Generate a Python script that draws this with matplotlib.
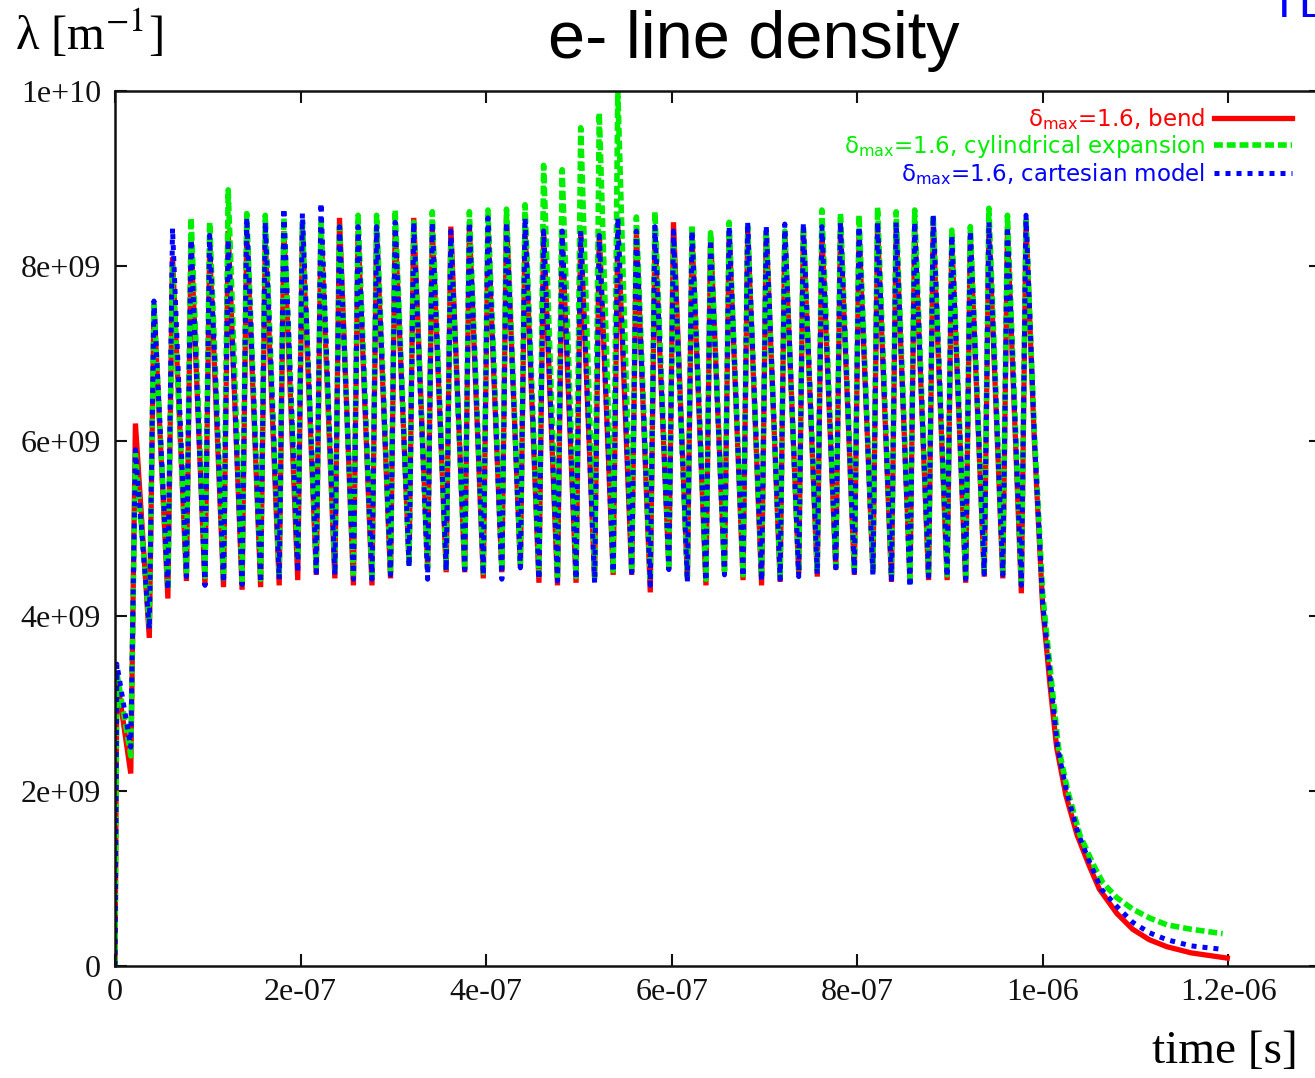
import matplotlib
matplotlib.use("Agg")
import matplotlib.pyplot as plt

# bunch passages: peak of line density (ns) and trough just before the next bunch (ns)
peak_t_ns = [2, 22, 42, 62, 82, 102, 122, 142, 162, 182,
             202, 222, 242, 262, 282, 302, 322, 342, 362, 382,
             402, 422, 442, 462, 482, 502, 522, 542, 562, 582,
             602, 622, 642, 662, 682, 702, 722, 742, 762, 782,
             802, 822, 842, 862, 882, 902, 922, 942, 962, 982]
trough_t_ns = [17, 37, 57, 77, 97, 117, 137, 157, 177, 197,
               217, 237, 257, 277, 297, 317, 337, 357, 377, 397,
               417, 437, 457, 477, 497, 517, 537, 557, 577, 597,
               617, 637, 657, 677, 697, 717, 737, 757, 777, 797,
               817, 837, 857, 877, 897, 917, 937, 957, 977]

# values in 1e9 m^-1
bend_peak = [3.3, 6.2, 7.55, 8.1, 8.3, 8.2, 8.4, 8.4, 8.3, 8.4,
             8.4, 8.45, 8.55, 8.4, 8.4, 8.45, 8.55, 8.45, 8.45, 8.45,
             8.4, 8.55, 8.45, 8.4, 8.35, 8.4, 8.4, 8.45, 8.4, 8.35,
             8.5, 8.35, 8.35, 8.4, 8.4, 8.4, 8.4, 8.4, 8.4, 8.45,
             8.4, 8.45, 8.45, 8.45, 8.45, 8.3, 8.35, 8.45, 8.4, 8.5]
bend_trough = [2.2, 3.75, 4.2, 4.4, 4.35, 4.33, 4.3, 4.33, 4.35, 4.41,
               4.47, 4.43, 4.35, 4.35, 4.43, 4.6, 4.55, 4.5, 4.5, 4.43,
               4.5, 4.55, 4.38, 4.35, 4.38, 4.42, 4.47, 4.47, 4.27, 4.55,
               4.42, 4.35, 4.5, 4.41, 4.35, 4.39, 4.48, 4.45, 4.53, 4.47,
               4.5, 4.39, 4.4, 4.41, 4.41, 4.38, 4.45, 4.43, 4.26]

cyl_peak = [3.35, 5.85, 7.55, 8.0, 8.55, 8.5, 8.87, 8.6, 8.58, 8.55,
            8.5, 8.5, 8.45, 8.58, 8.58, 8.64, 8.5, 8.62, 8.3, 8.62,
            8.64, 8.65, 8.7, 9.15, 9.1, 9.58, 9.75, 10.0, 8.56, 8.62,
            8.3, 8.47, 8.38, 8.5, 8.45, 8.4, 8.4, 8.45, 8.64, 8.6,
            8.58, 8.67, 8.62, 8.64, 8.58, 8.41, 8.45, 8.66, 8.58, 8.55]
cyl_trough = [2.4, 3.9, 4.3, 4.5, 4.45, 4.43, 4.4, 4.42, 4.45, 4.64,
              4.56, 4.52, 4.45, 4.45, 4.5, 4.6, 4.55, 4.55, 4.55, 4.5,
              4.55, 4.58, 4.47, 4.45, 4.45, 4.45, 4.52, 4.52, 4.4, 4.58,
              4.45, 4.42, 4.52, 4.47, 4.43, 4.45, 4.5, 4.5, 4.56, 4.52,
              4.52, 4.45, 4.42, 4.47, 4.47, 4.45, 4.5, 4.5, 4.38]

cart_peak = [3.45, 5.9, 7.6, 8.43, 8.3, 8.35, 8.3, 8.55, 8.5, 8.66,
             8.6, 8.72, 8.45, 8.45, 8.45, 8.5, 8.5, 8.5, 8.4, 8.5,
             8.55, 8.5, 8.55, 8.4, 8.4, 8.4, 8.35, 8.55, 8.4, 8.45,
             8.4, 8.4, 8.3, 8.45, 8.5, 8.46, 8.48, 8.49, 8.45, 8.5,
             8.45, 8.5, 8.5, 8.5, 8.58, 8.35, 8.4, 8.5, 8.45, 8.58]
cart_trough = [2.5, 3.85, 4.3, 4.45, 4.35, 4.38, 4.36, 4.38, 4.42, 4.5,
               4.5, 4.47, 4.42, 4.42, 4.47, 4.56, 4.42, 4.52, 4.53, 4.47,
               4.42, 4.55, 4.42, 4.4, 4.42, 4.38, 4.5, 4.5, 4.35, 4.53,
               4.39, 4.4, 4.47, 4.45, 4.4, 4.42, 4.45, 4.48, 4.55, 4.5,
               4.47, 4.42, 4.33, 4.45, 4.45, 4.42, 4.48, 4.47, 4.35]

# decay after the train
bend_tail_t = [991, 1000, 1008, 1015, 1025, 1037, 1050, 1061, 1080, 1097, 1115, 1134, 1160, 1199]
bend_tail = [6.0, 4.1, 3.2, 2.5, 1.95, 1.5, 1.15, 0.88, 0.6, 0.42, 0.3, 0.22, 0.15, 0.09]
cyl_tail_t = [991, 1000, 1008, 1017, 1027, 1040, 1055, 1065, 1080, 1097, 1115, 1134, 1160, 1194]
cyl_tail = [6.1, 4.25, 3.4, 2.5, 2.0, 1.5, 1.15, 0.95, 0.78, 0.65, 0.55, 0.47, 0.42, 0.37]
cart_tail_t = [991, 1000, 1008, 1016, 1026, 1038, 1050, 1063, 1080, 1097, 1115, 1134, 1160, 1194]
cart_tail = [6.05, 4.15, 3.3, 2.5, 1.98, 1.52, 1.2, 0.88, 0.68, 0.5, 0.38, 0.3, 0.23, 0.19]

x_ticks = [0, 2e-7, 4e-7, 6e-7, 8e-7, 1e-6, 1.2e-6]
x_labels = ['0', '2e-07', '4e-07', '6e-07', '8e-07', '1e-06', '1.2e-06']
y_ticks = [0, 2e9, 4e9, 6e9, 8e9, 1e10]
y_labels = ['0', '2e+09', '4e+09', '6e+09', '8e+09', '1e+10']

labels = [r'δ$_{\rm max}$=1.6, bend',
          r'δ$_{\rm max}$=1.6, cylindrical expansion',
          r'δ$_{\rm max}$=1.6, cartesian model']


def build(peaks, troughs, tail_t, tail):
    t = [0.0]
    y = [0.0]
    for i in range(len(peaks)):
        t.append(peak_t_ns[i])
        y.append(peaks[i])
        if i < len(troughs):
            t.append(trough_t_ns[i])
            y.append(troughs[i])
    t += tail_t
    y += tail
    return [v * 1e-9 for v in t], [v * 1e9 for v in y]


plt.rcParams['font.family'] = 'Liberation Serif'

fig = plt.figure(figsize=(13.15, 10.78), dpi=100)
W, H = 1315, 1078
ax = fig.add_axes([115 / W, 1 - 966 / H, 1206 / W, 875 / H])

t, y = build(bend_peak, bend_trough, bend_tail_t, bend_tail)
ax.plot(t, y, color='#ff0000', lw=3.8, solid_joinstyle='miter', label=labels[0])
t, y = build(cyl_peak, cyl_trough, cyl_tail_t, cyl_tail)
ax.plot(t, y, color='#00ee00', lw=4.0, dashes=(1.6, 0.7), label=labels[1])
t, y = build(cart_peak, cart_trough, cart_tail_t, cart_tail)
ax.plot(t, y, color='#0000ff', lw=3.6, dashes=(1.0, 1.2), label=labels[2])

ax.set_xlim(0, 1.3e-6)
ax.set_ylim(0, 1e10)
ax.set_xticks(x_ticks)
ax.set_xticklabels(x_labels)
ax.set_yticks(y_ticks)
ax.set_yticklabels(y_labels)
ax.tick_params(direction='in', length=8.5, width=1.5, top=True, right=True,
               labelsize=23, colors='#111111')
ax.tick_params(axis='x', pad=9)
ax.tick_params(axis='y', pad=10)
for s in ax.spines.values():
    s.set_linewidth(1.8)
    s.set_color('#111111')

leg = ax.legend(loc='upper right', bbox_to_anchor=(1292 / W, 1 - 106 / H),
                bbox_transform=fig.transFigure, markerfirst=False, frameon=False,
                labelcolor='linecolor', handlelength=3.4, handletextpad=0.4,
                labelspacing=0.05, borderpad=0, borderaxespad=0,
                prop={'family': 'DejaVu Sans', 'size': 16.5})
for txt in leg.get_texts():
    txt.set_math_fontfamily('dejavusans')

fig.text(754 / W, 1 - 58 / H, 'e- line density', ha='center', va='baseline',
         fontsize=48, family='Liberation Sans')
fig.text(15 / W, 1 - 50 / H, r'λ [m$^{-1}$]', ha='left', va='baseline',
         fontsize=35, family='Liberation Serif', math_fontfamily='stix')
fig.text(1298 / W, 1 - 1063 / H, 'time [s]', ha='right', va='baseline',
         fontsize=34, family='Liberation Serif')
fig.text(1270 / W, 1 - 17 / H, 'TL', ha='left', va='baseline',
         fontsize=34, family='Liberation Sans', color='#0000ff')

fig.savefig('out.png', dpi=100)
